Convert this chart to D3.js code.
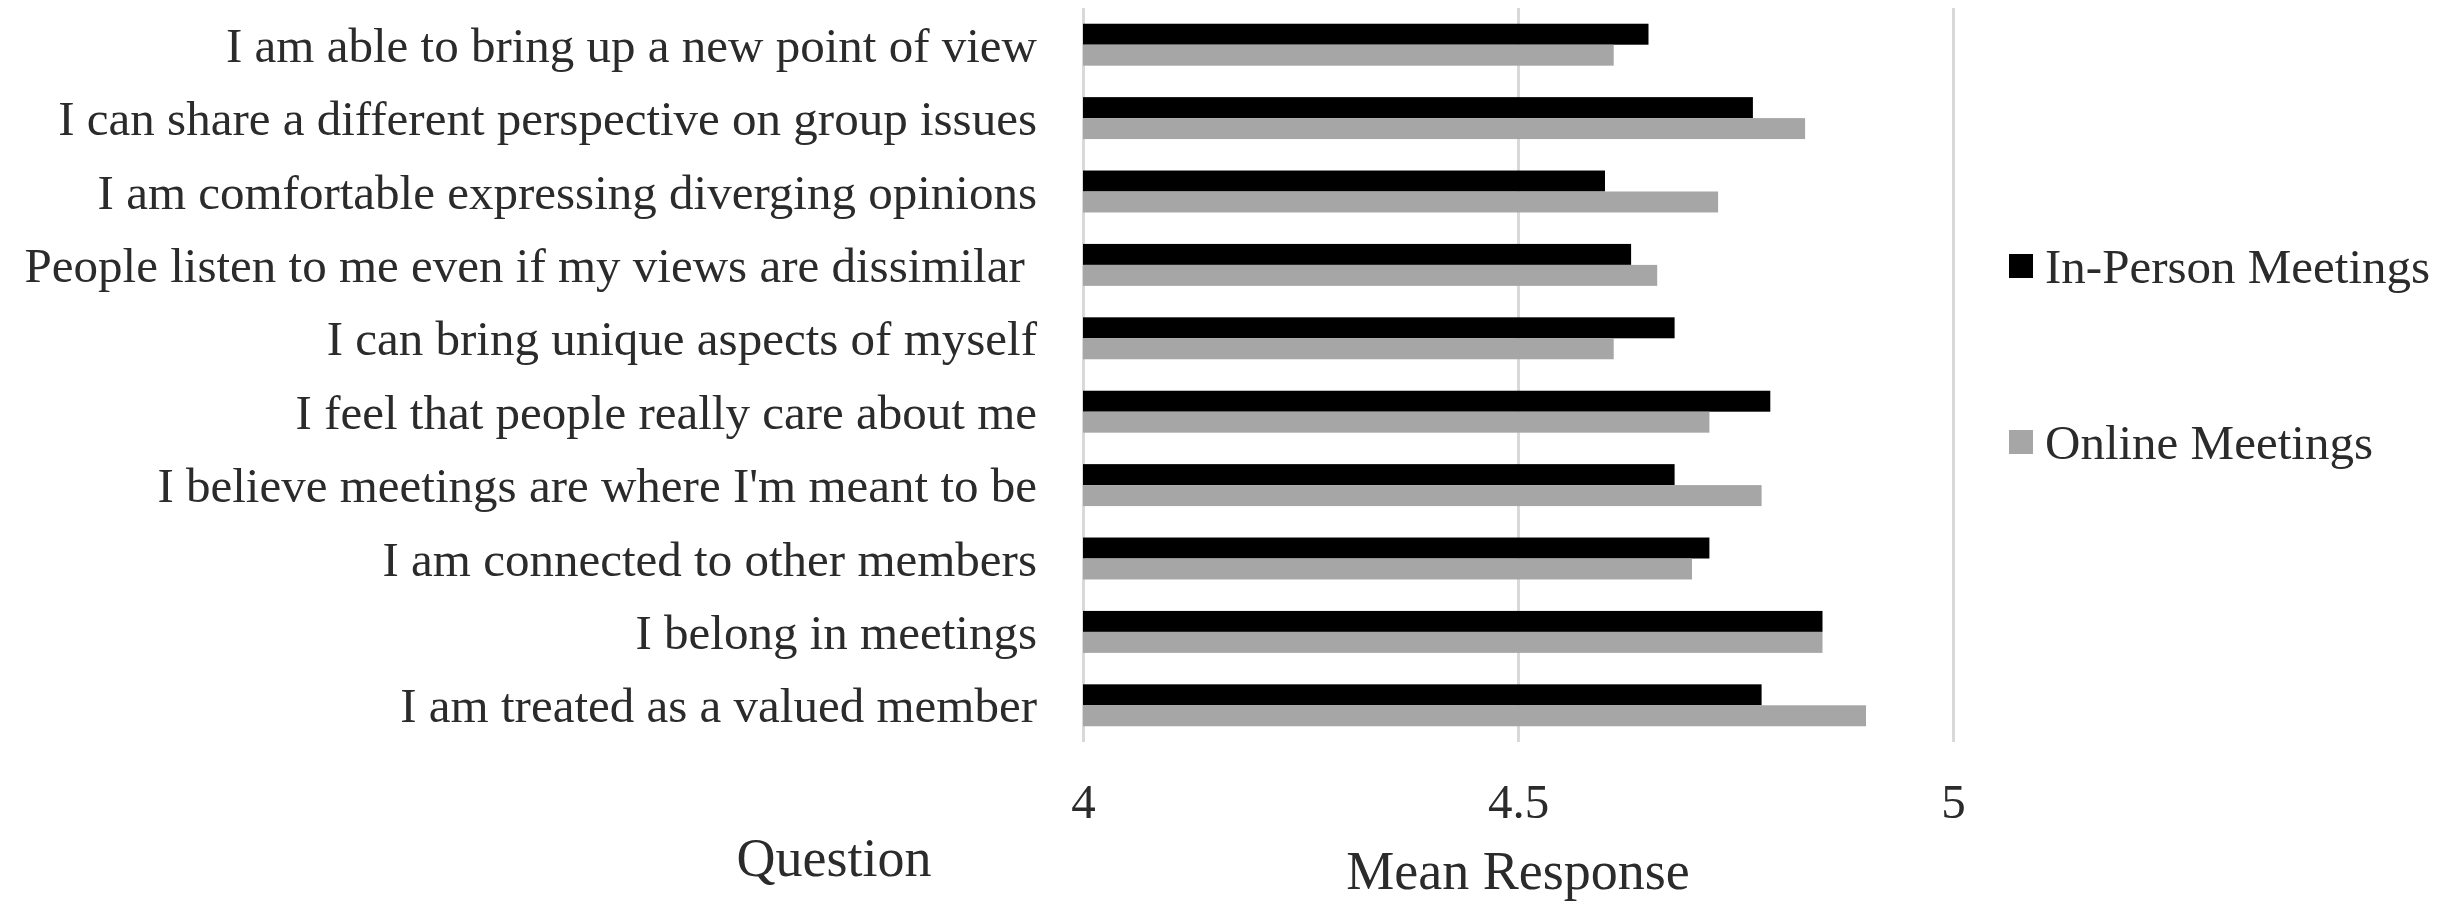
<!DOCTYPE html>
<html>
<head>
<meta charset="utf-8">
<script src="https://cdn.jsdelivr.net/npm/d3@7"></script>
<style>
  html, body { margin: 0; padding: 0; background: #fff; }
  svg { display: block; }
  text { font-family: "Liberation Serif", "Times New Roman", serif; fill: #2b2b2b; white-space: pre; }
</style>
</head>
<body>
<svg id="chart" width="2456" height="904"></svg>
<script>
const categories = [
  "I am able to bring up a new point of view",
  "I can share a different perspective on group issues",
  "I am comfortable expressing diverging opinions",
  "People listen to me even if my views are dissimilar ",
  "I can bring unique aspects of myself",
  "I feel that people really care about me",
  "I believe meetings are where I'm meant to be",
  "I am connected to other members",
  "I belong in meetings",
  "I am treated as a valued member"
];
const seriesNames = ["In-Person Meetings", "Online Meetings"];
const inPerson = [4.65, 4.77, 4.60, 4.63, 4.68, 4.79, 4.68, 4.72, 4.85, 4.78];
const online   = [4.61, 4.83, 4.73, 4.66, 4.61, 4.72, 4.78, 4.70, 4.85, 4.90];
const seriesColors = ["#000000", "#a6a6a6"];
const tickValues = [4, 4.5, 5];
const tickLabels = ["4", "4.5", "5"];
const xTitle = "Mean Response";
const yTitle = "Question";

const seriesValues = [inPerson, online];

const svg = d3.select("#chart");
const plotTop = 8, plotBottom = 742, plotLeft = 1083, plotRight = 1953;

const x = d3.scaleLinear().domain([4, 5]).range([plotLeft, plotRight]);
const y = d3.scaleBand().domain(categories).range([plotTop, plotBottom]).padding(0);
const ySub = d3.scaleBand().domain(seriesNames).range([0, y.bandwidth()]).paddingInner(0).paddingOuter(0.75);

// gridlines
const grid = svg.append("g")
  .attr("transform", `translate(0,${plotBottom})`)
  .call(d3.axisBottom(x).tickValues(tickValues).tickSize(-(plotBottom - plotTop)).tickFormat(""));
grid.select(".domain").remove();
grid.selectAll(".tick line").attr("stroke", "#d9d9d9").attr("stroke-width", 3);

// tick labels
const xAxis = svg.append("g")
  .attr("transform", `translate(0,${plotBottom})`)
  .call(d3.axisBottom(x).tickValues(tickValues).tickSize(0)
    .tickFormat((d, i) => tickLabels[i]));
xAxis.select(".domain").remove();
xAxis.selectAll(".tick text")
  .attr("y", 76).attr("dy", 0)
  .style("font-size", "49px")
  .style("font-family", "'Liberation Serif', 'Times New Roman', serif")
  .attr("fill", "#2b2b2b");

// bars
seriesNames.forEach((s, si) => {
  svg.append("g").selectAll("rect")
    .data(categories.map((c, i) => ({ c, v: seriesValues[si][i] })))
    .join("rect")
    .attr("x", x(4))
    .attr("y", d => y(d.c) + ySub(s))
    .attr("width", d => x(d.v) - x(4))
    .attr("height", ySub.bandwidth())
    .attr("fill", seriesColors[si]);
});

// category labels
svg.append("g").selectAll("text")
  .data(categories)
  .join("text")
  .attr("xml:space", "preserve")
  .attr("x", 1037)
  .attr("y", d => y(d) + y.bandwidth() / 2)
  .attr("dy", "0.35em")
  .attr("text-anchor", "end")
  .style("font-size", "49px")
  .text(d => d);

// legend
const legendY = [266, 442];
const lg = svg.append("g");
seriesNames.forEach((s, i) => {
  lg.append("rect")
    .attr("x", 2009).attr("y", legendY[i] - 12)
    .attr("width", 24).attr("height", 24)
    .attr("fill", seriesColors[i]);
  lg.append("text")
    .attr("x", 2045).attr("y", legendY[i] + 17)
    .style("font-size", "49px")
    .text(s);
});

// axis titles
svg.append("text")
  .attr("x", (plotLeft + plotRight) / 2).attr("y", 889)
  .attr("text-anchor", "middle")
  .style("font-size", "54px")
  .text(xTitle);
svg.append("text")
  .attr("x", 834).attr("y", 876)
  .attr("text-anchor", "middle")
  .style("font-size", "54px")
  .text(yTitle);
</script>
</body>
</html>
